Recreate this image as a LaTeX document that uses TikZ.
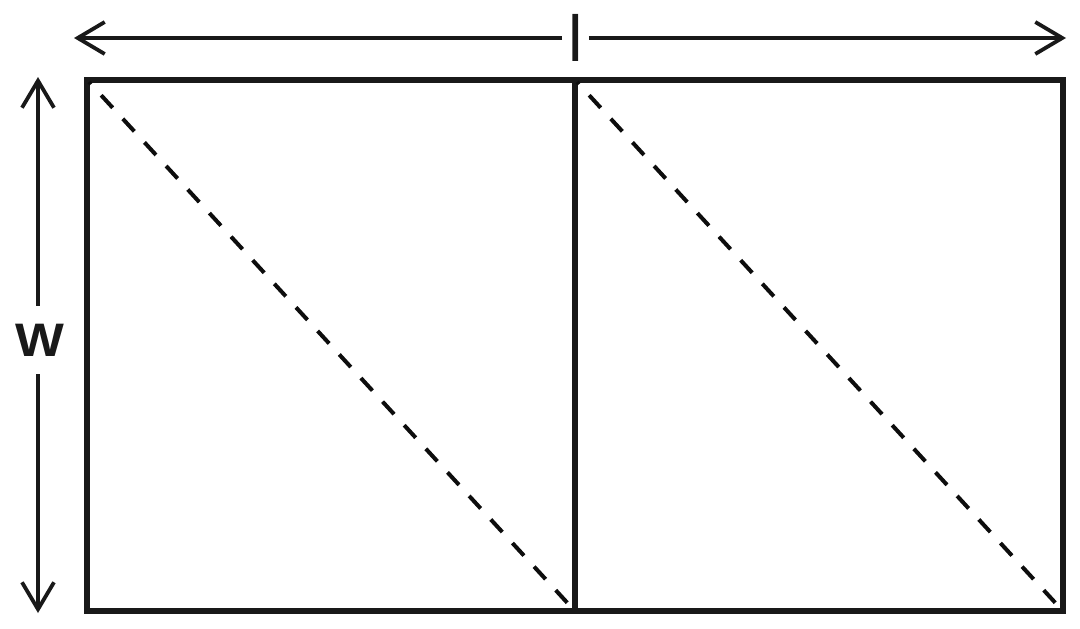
\documentclass[tikz,border=0pt]{standalone}
\usepackage{fontspec}
\setmainfont{Liberation Sans}
\usetikzlibrary{arrows.meta}
\begin{document}
\begin{tikzpicture}[x=1pt,y=-1pt,
  frame/.style={line width=5.5pt, line join=miter, line cap=rect, draw=black!90},
  diag/.style={line width=4pt, dash pattern=on 17pt off 15pt, dash phase=14pt, draw=black!95},
  dim/.style={line width=3.8pt, draw=black!90, -{Straight Barb[length=27pt,width=32pt,line width=3.8pt]}},
  lbl/.style={inner sep=0pt, text=black!90}]
\useasboundingbox (0,0) rectangle (1080,629);
\fill[white] (0,0) rectangle (1080,629);
% frame corners
\coordinate (TL) at (87,80);
\coordinate (TM) at (575,80);
\coordinate (TR) at (1063,80);
\coordinate (BL) at (87,611);
\coordinate (BM) at (575,611);
\coordinate (BR) at (1063,611);
\draw[frame] (TL) -- (TR) -- (BR) -- (BL) -- cycle;
\draw[frame] (TM) -- (BM);
% diagonals
\coordinate (d1a) at (89,82);
\coordinate (d1b) at (573,609);
\coordinate (d2a) at (577,82);
\coordinate (d2b) at (1061,609);
\draw[diag] (d1a) -- (d1b);
\draw[diag] (d2a) -- (d2b);
% length dimension
\node[lbl, inner xsep=6pt, font=\fontsize{65}{65}\selectfont] (l) at (575.5,37.5) {l};
\coordinate (la) at (74,38);
\coordinate (lb) at (1066,38);
\draw[dim] (l.west |- la) -- (la);
\draw[dim] (l.east |- lb) -- (lb);
% width dimension
\node[lbl, inner ysep=18pt, font=\fontsize{47}{47}\selectfont\bfseries, xscale=1.1] (w) at (39.5,340) {W};
\coordinate (wa) at (38,77);
\coordinate (wb) at (38,613);
\draw[dim] (w.north -| wa) -- (wa);
\draw[dim] (w.south -| wb) -- (wb);
\end{tikzpicture}
\end{document}
